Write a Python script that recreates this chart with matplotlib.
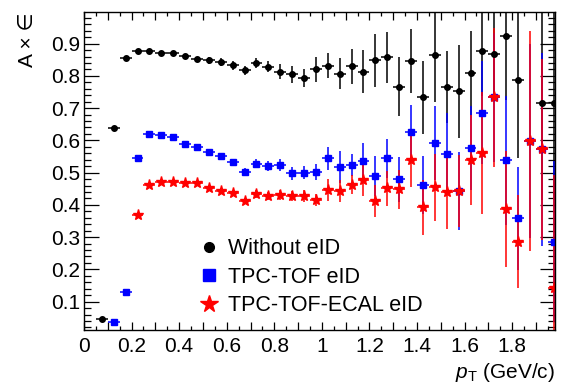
import numpy as np
import matplotlib
matplotlib.use("Agg")
import matplotlib.pyplot as plt
from matplotlib.lines import Line2D
from matplotlib.ticker import MultipleLocator, FuncFormatter

plt.rcParams['font.family'] = ['Liberation Sans', 'DejaVu Sans']
plt.rcParams['mathtext.fontset'] = 'custom'
plt.rcParams['mathtext.rm'] = 'Liberation Sans'
plt.rcParams['mathtext.it'] = 'Liberation Sans:italic'

# bin centres in pT (GeV/c), bin width 0.05
pt = np.arange(0.075, 2.0, 0.05)
pt_err = 0.025

nan = np.nan
# Without eID
eff_none = [0.047, 0.638, 0.854, 0.877, 0.877, 0.872, 0.872, 0.861, 0.851, 0.848,
            0.843, 0.833, 0.817, 0.840, 0.828, 0.813, 0.805, 0.794, 0.820, 0.832,
            0.807, 0.830, 0.813, 0.848, 0.857, 0.766, 0.846, 0.734, 0.864, 0.766,
            0.752, 0.809, 0.876, 0.867, 0.925, 0.786, nan, 0.716, 0.716]
err_none = [0.004, 0.005, 0.004, 0.004, 0.004, 0.004, 0.005, 0.006, 0.007, 0.010,
            0.012, 0.014, 0.015, 0.016, 0.017, 0.023, 0.026, 0.028, 0.039, 0.040,
            0.049, 0.054, 0.067, 0.083, 0.080, 0.092, 0.098, 0.113, 0.145, 0.112,
            0.144, 0.130, 0.140, 0.140, 0.200, 0.240, nan, 0.300, 0.300]
# TPC-TOF eID
eff_tof = [nan, 0.036, 0.131, 0.544, 0.621, 0.616, 0.609, 0.588, 0.578, 0.563,
           0.551, 0.533, 0.501, 0.528, 0.521, 0.523, 0.498, 0.499, 0.502, 0.544,
           0.518, 0.523, 0.536, 0.490, 0.544, 0.479, 0.626, 0.463, 0.592, 0.559,
           0.443, 0.577, 0.686, 0.733, 0.539, 0.358, 0.598, 0.572, 0.286]
err_tof = [nan, 0.003, 0.004, 0.005, 0.005, 0.005, 0.006, 0.006, 0.007, 0.008,
           0.009, 0.010, 0.012, 0.015, 0.015, 0.018, 0.020, 0.020, 0.024, 0.036,
           0.050, 0.035, 0.055, 0.063, 0.060, 0.070, 0.083, 0.090, 0.115, 0.125,
           0.120, 0.130, 0.160, 0.200, 0.200, 0.160, 0.300, 0.300, 0.250]
# TPC-TOF-ECAL eID
eff_ecal = [nan, nan, nan, 0.368, 0.463, 0.470, 0.470, 0.467, 0.467, 0.453,
            0.443, 0.436, 0.412, 0.433, 0.427, 0.430, 0.428, 0.428, 0.415, 0.446,
            0.443, 0.463, 0.477, 0.413, 0.451, 0.448, 0.539, 0.392, 0.454, 0.441,
            0.443, 0.539, 0.561, 0.733, 0.386, 0.286, 0.598, 0.572, 0.143]
err_ecal = [nan, nan, nan, 0.004, 0.005, 0.005, 0.005, 0.006, 0.006, 0.007,
            0.008, 0.009, 0.010, 0.012, 0.013, 0.015, 0.016, 0.018, 0.020, 0.033,
            0.033, 0.030, 0.050, 0.050, 0.055, 0.060, 0.083, 0.085, 0.105, 0.115,
            0.113, 0.140, 0.190, 0.215, 0.180, 0.145, 0.340, 0.280, 0.350]

labels = ["Without eID", "TPC-TOF eID", "TPC-TOF-ECAL eID"]

fig = plt.figure(figsize=(5.61, 3.87), dpi=100)
ax = fig.add_axes([0.1497, 0.1473, 0.8396, 0.8217])

styles = [('black', 'o', 4.0), ('#0000ff', 's', 5.0), ('#ff0000', '*', 8.0)]
for y, e, (c, m, ms) in zip([eff_none, eff_tof, eff_ecal], [err_none, err_tof, err_ecal], styles):
    ax.errorbar(pt, y, yerr=e, xerr=pt_err, fmt=m, color=c, ms=ms, mec=c,
                elinewidth=1.1, capsize=0)

ax.set_xlim(0, 1.98)
ax.set_ylim(0.012, 0.998)

ax.xaxis.set_major_locator(MultipleLocator(0.1))
ax.xaxis.set_minor_locator(MultipleLocator(0.05))
ax.yaxis.set_major_locator(MultipleLocator(0.1))
ax.yaxis.set_minor_locator(MultipleLocator(0.02))


def xfmt(v, pos):
    k = int(round(v * 10))
    if k % 2:
        return ""
    return f"{v:g}"


ax.xaxis.set_major_formatter(FuncFormatter(xfmt))
ax.yaxis.set_major_formatter(FuncFormatter(lambda v, p: f"{v:.1f}" if v > 0.05 else ""))

ax.tick_params(which='both', direction='in', top=True, right=True, labelsize=15, width=0.9)
ax.tick_params(axis='x', which='major', length=6, pad=5)
ax.tick_params(axis='x', which='minor', length=3)
ax.tick_params(axis='y', which='major', length=11, pad=3)
ax.tick_params(axis='y', which='minor', length=5)
for s in ax.spines.values():
    s.set_linewidth(1.0)

ax.set_xlabel(r"$p_{\rm T}$ (GeV/c)", fontsize=15, loc='right', labelpad=4)
ax.set_ylabel("A × ∈", fontsize=15, loc='top', labelpad=10)

handles = [Line2D([], [], ls='none', marker='o', color='black', ms=7),
           Line2D([], [], ls='none', marker='s', color='#0000ff', ms=8.5),
           Line2D([], [], ls='none', marker='*', color='#ff0000', ms=13)]
ax.legend(handles, labels, loc='upper left', bbox_to_anchor=(0.242, 0.289), frameon=False,
          fontsize=15.5, handlelength=1.0, handletextpad=0.4, labelspacing=0.35,
          borderpad=0, borderaxespad=0)

fig.savefig("out.png", dpi=100)
